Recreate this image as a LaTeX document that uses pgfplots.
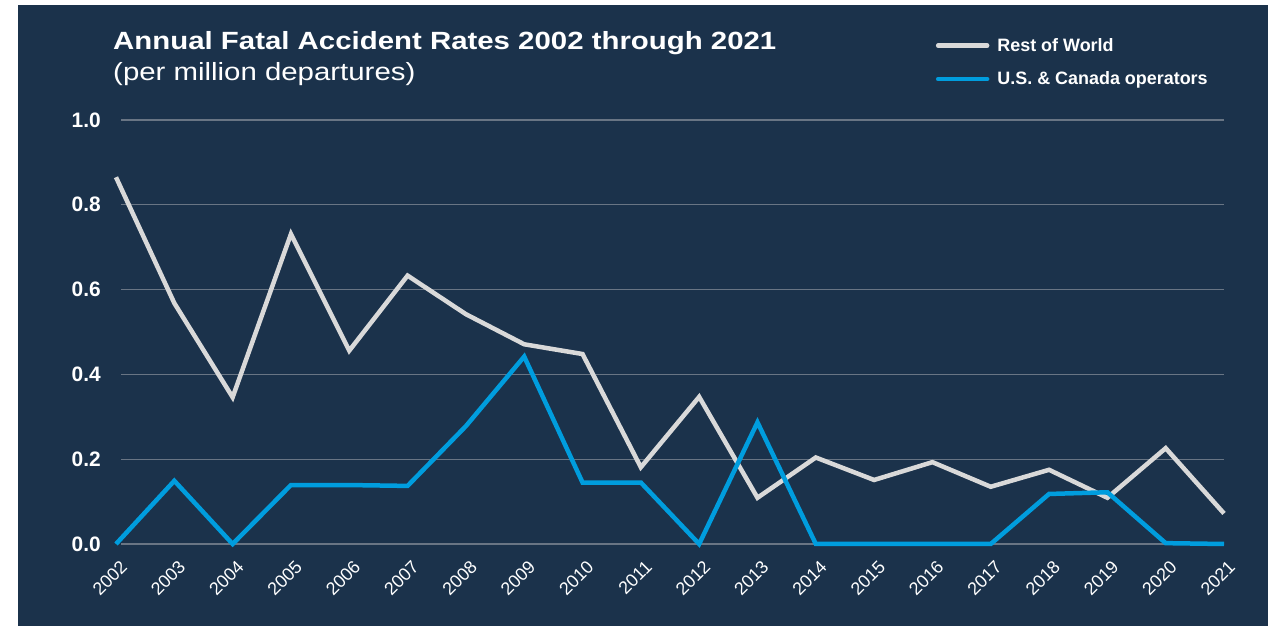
\documentclass[border=0pt]{standalone}
\usepackage{pgfplots}
\pgfplotsset{compat=1.18}
\usepackage{fontspec}
\setmainfont{Liberation Sans}
\definecolor{navy}{RGB}{27,50,75}
\definecolor{rowgrey}{RGB}{217,217,217}
\definecolor{usblue}{RGB}{0,157,222}
\definecolor{gridc}{RGB}{105,117,132}
\begin{document}
\begin{tikzpicture}[x=1bp,y=1bp]
\fill[white] (0,0) rectangle (1268,626);
\fill[navy] (18,0) rectangle (1268,621);
\node[anchor=base west, inner sep=0, xscale=1.18, text=white, font=\fontsize{25}{28}\selectfont\bfseries] at (113,576.5) {Annual Fatal Accident Rates 2002 through 2021};
\node[anchor=base west, inner sep=0, xscale=1.18, text=white, font=\fontsize{25}{28}\selectfont] at (113,545.5) {(per million departures)};
\begin{axis}[
  at={(116bp,82bp)}, anchor=south west,
  scale only axis, width=1108bp, height=424bp,
  xmin=0, xmax=19, ymin=0, ymax=1,
  clip=false,
  axis line style={draw=none},
  major tick style={draw=none},
  xtick={0,...,19},
  xticklabels={2002,2003,2004,2005,2006,2007,2008,2009,2010,2011,2012,2013,2014,2015,2016,2017,2018,2019,2020,2021},
  xticklabel style={text=white, font=\fontsize{18}{20}\selectfont, inner sep=0pt, xshift=8bp, yshift=-20bp, rotate=45, anchor=east},
  ytick={0,0.2,0.4,0.6,0.8,1.0},
  yticklabel style={text=white, font=\fontsize{21}{24}\selectfont\bfseries, inner sep=0pt, anchor=east, xshift=-15bp,
    /pgf/number format/.cd, fixed, fixed zerofill, precision=1, assume math mode=true},
  legend style={at={(axis description cs:0.7398,1.193)}, anchor=north west, draw=none, fill=none, text=white,
    font=\fontsize{18}{20}\selectfont\bfseries, row sep=19bp, inner sep=0pt,
    nodes={inner sep=0pt, anchor=west}},
  legend cell align=left,
  legend image code/.code={\draw[#1, line width=4.5bp, line cap=round] (0bp,0bp) -- (49bp,0bp);},
  legend columns=1,
]
\pgfplotsinvokeforeach{0,0.2,0.4,0.6,0.8,1.0}{
  \draw[gridc, line width=1.2bp] (axis cs:0.09,#1) -- (axis cs:19,#1);
}
\addplot[rowgrey, line width=4.5bp, line join=miter] coordinates {
(0,0.865) (1,0.568) (2,0.346) (3,0.731) (4,0.456) (5,0.633) (6,0.542) (7,0.471) (8,0.448) (9,0.181)
(10,0.347) (11,0.109) (12,0.204) (13,0.151) (14,0.193) (15,0.135) (16,0.175) (17,0.109) (18,0.226) (19,0.072)};
\addlegendentry{\hspace{8bp}Rest of World}
\addplot[usblue, line width=4.5bp, line join=miter] coordinates {
(0,0) (1,0.149) (2,0) (3,0.139) (4,0.139) (5,0.137) (6,0.278) (7,0.442) (8,0.145) (9,0.145)
(10,0) (11,0.287) (12,0) (13,0) (14,0) (15,0) (16,0.118) (17,0.122) (18,0.002) (19,0)};
\addlegendentry{\hspace{8bp}U.S. \& Canada operators}
\end{axis}
\end{tikzpicture}
\end{document}
